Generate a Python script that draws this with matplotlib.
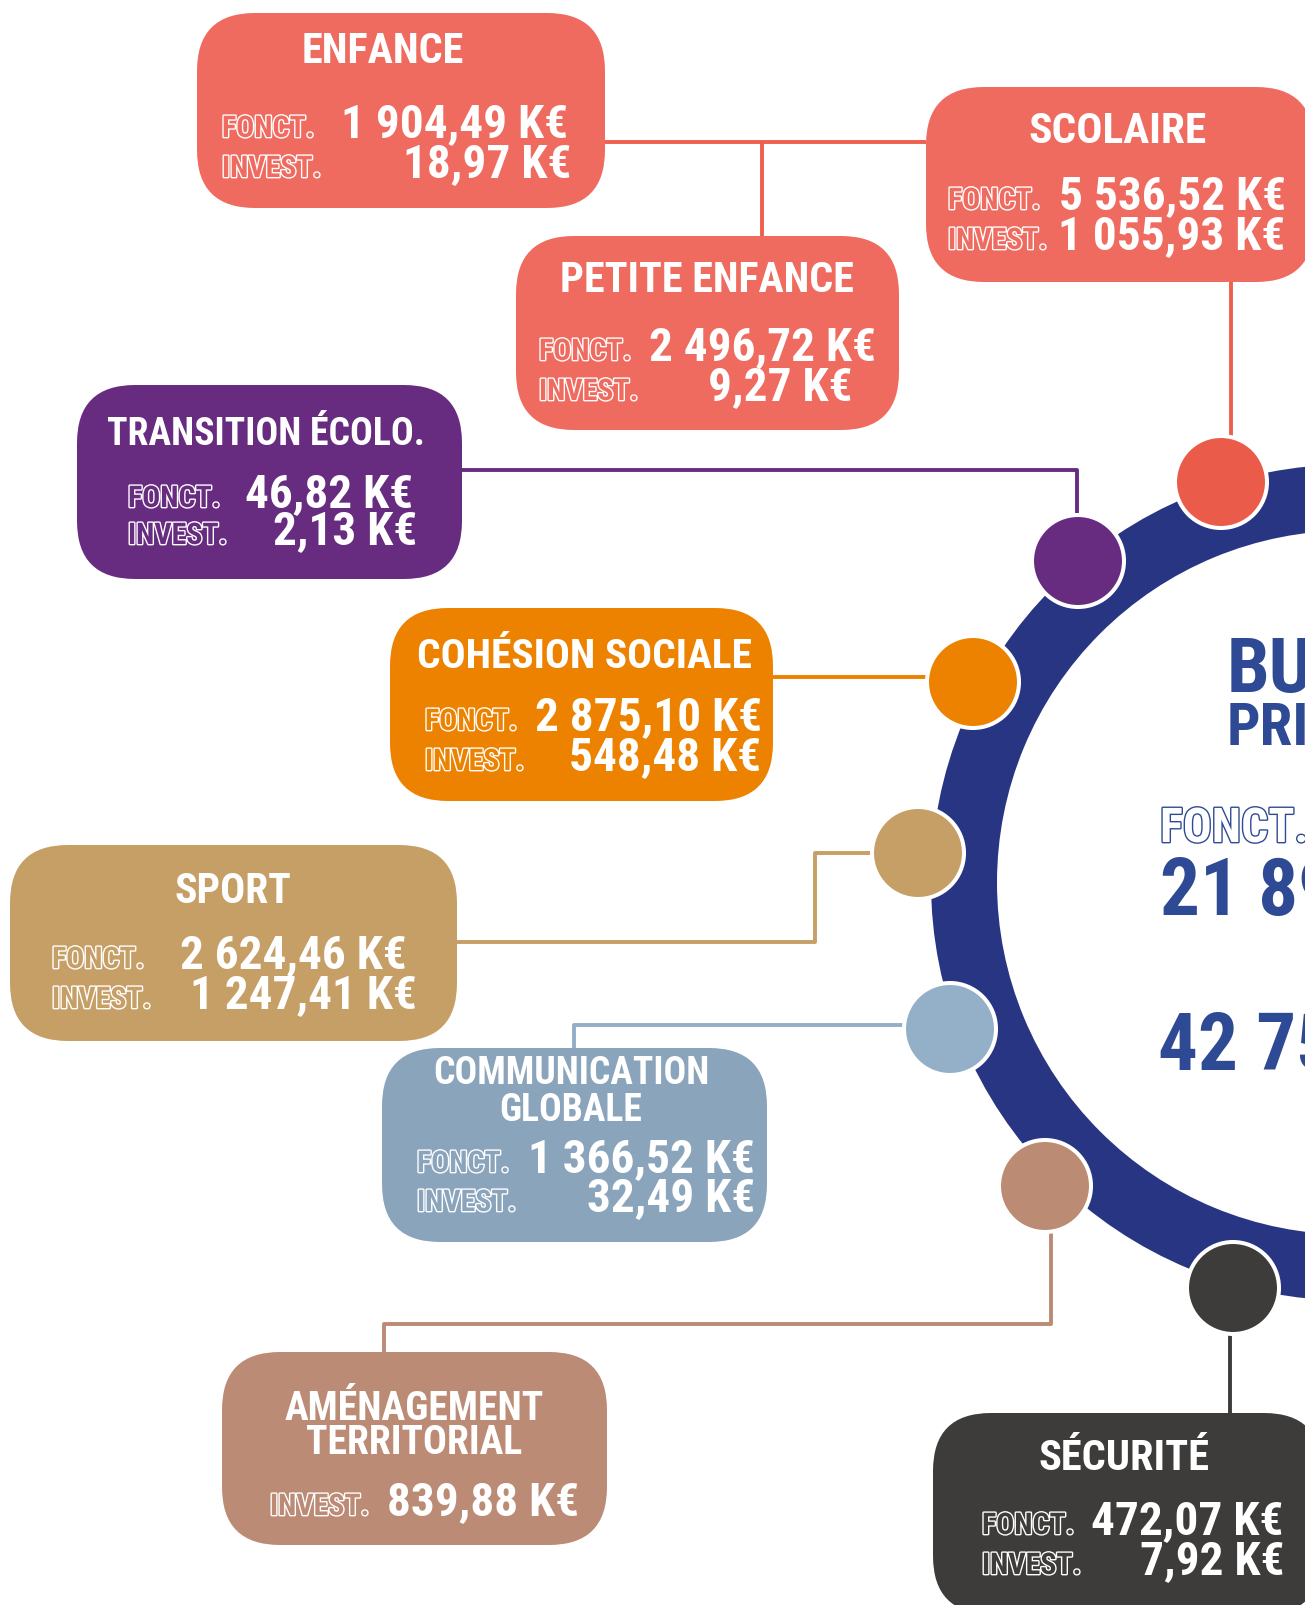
import matplotlib
matplotlib.use("Agg")
import matplotlib.pyplot as plt
import matplotlib.patches as mpatches
import matplotlib.patheffects as pe
from matplotlib import font_manager as fm

# ---- data ----
themes = ['ENFANCE', 'SCOLAIRE', 'PETITE ENFANCE', 'TRANSITION ÉCOLO.',
          'COHÉSION SOCIALE', 'SPORT', 'COMMUNICATION\nGLOBALE',
          'AMÉNAGEMENT\nTERRITORIAL', 'SÉCURITÉ']
fonct = [1904.49, 5536.52, 2496.72, 46.82, 2875.10, 2624.46, 1366.52, None, 472.07]
invest = [18.97, 1055.93, 9.27, 2.13, 548.48, 1247.41, 32.49, 839.88, 7.92]
center_lines = ['BUDGET', 'PRINCIPAL', 'FONCT.', '21 89', '42 75']

# ---- layout (pixels, y down) ----
boxes = [(197, 13, 605, 208), (926, 87, 1314, 282), (516, 236, 899, 430),
         (77, 385, 462, 579), (390, 608, 773, 801), (10, 845, 457, 1041),
         (382, 1048, 767, 1242), (222, 1352, 607, 1545), (933, 1413, 1322, 1614)]
box_colors = ['#EF6B5F', '#EF6B5F', '#EF6B5F', '#672C80', '#EC8200',
              '#C69F66', '#8AA4BC', '#BB8B75', '#3D3C3A']
title_pos = [(383, 63), (1117, 143), (707, 292), (266, 445), (584, 668),
             (233, 903), (571, 1084), (414, 1420), (1124, 1470)]
title_size = [30.4, 31.2, 30.3, 27.2, 29.8, 30.0, 27.1, 28.5, 30.5]
label_x = [222, 948, 539, 128, 425, 52, 417, 270, 982]
row_base = [(137, 177), (209, 249), (360, 400), (507, 544), (730, 770),
            (968, 1008), (1172, 1211), (None, 1515), (1534, 1574)]
value_x = [(341, 403), (1059, 1058), (649, 708), (245, 273), (535, 569),
           (180, 190), (528, 587), (None, 387), (1091, 1140)]

ring_c = (1349, 882.5)
ring_r, ring_w = 418, 66
node_xy = [(1221, 482), (1078, 561), (973, 682), (918, 853),
           (950, 1029), (1045, 1186), (1233, 1288)]
node_colors = ['#EA5B4A', '#672C80', '#EC8200', '#C69F66',
               '#93B0C8', '#BC8B73', '#3D3C3A']
links = [([605, 926], [142, 142], '#EE5F4E'),
         ([762, 762], [142, 236], '#EE5F4E'),
         ([1231, 1231], [282, 436], '#EE5F4E'),
         ([462, 1077, 1077], [470, 470, 515], '#672C80'),
         ([773, 927], [677, 677], '#EC8200'),
         ([457, 815, 815, 872], [942, 942, 853, 853], '#C69F66'),
         ([574, 574, 904], [1048, 1025, 1025], '#92AEC8'),
         ([1051, 1051, 384, 384], [1232, 1324, 1324, 1352], '#BB8B75'),
         ([1230, 1230], [1334, 1413], '#3D3C3A')]

RING = '#283583'
BLUE = '#2E4A94'

names = {f.name for f in fm.fontManager.ttflist}
FONT, STRETCH = 'DejaVu Sans', 'condensed'
for cand in ['Roboto Condensed', 'Liberation Sans Narrow']:
    if cand in names:
        FONT, STRETCH = cand, 'normal'
        break


def fr(v):
    return f"{v:,.2f}".replace(',', ' ').replace('.', ',') + ' K€'


def txt(ax, x, y, s, size, color='white', ha='left', outline=None, z=5):
    t = ax.text(x, y, s, fontsize=size, color=color, ha=ha, va='baseline',
                family=FONT, fontstretch=STRETCH, fontweight='bold', zorder=z)
    if outline:
        t.set_path_effects([pe.Stroke(linewidth=2.0, foreground=outline), pe.Normal()])
    return t


fig = plt.figure(figsize=(13.05, 16.05), dpi=100)
ax = fig.add_axes([0, 0, 1, 1])
ax.set_xlim(0, 1305)
ax.set_ylim(1605, 0)
ax.axis('off')

for xs, ys, c in links:
    ax.plot(xs, ys, color=c, lw=2.8, solid_capstyle='butt', zorder=1)

ax.add_patch(mpatches.Wedge(ring_c, ring_r, 0, 360, width=ring_w,
                            facecolor=RING, edgecolor='none', zorder=2))

for (x, y), c in zip(node_xy, node_colors):
    ax.add_patch(mpatches.Circle((x, y), 46, facecolor=c, edgecolor='white',
                                 lw=2.9, zorder=3))

for i, name in enumerate(themes):
    x0, y0, x1, y1 = boxes[i]
    col = box_colors[i]
    ax.add_patch(mpatches.FancyBboxPatch((x0, y0), x1 - x0, y1 - y0,
                                         boxstyle='round,pad=0,rounding_size=58',
                                         facecolor=col, edgecolor='none', zorder=3))
    tx, ty = title_pos[i]
    for k, line in enumerate(name.split('\n')):
        txt(ax, tx, ty + k * (37 if i == 6 else 34), line, title_size[i], ha='center')
    for j, (lab, val) in enumerate([('FONCT.', fonct[i]), ('INVEST.', invest[i])]):
        if val is None:
            continue
        yb = row_base[i][j]
        txt(ax, label_x[i], yb, lab, 21.5, color=col, outline='white')
        txt(ax, value_x[i][j], yb, fr(val), 34)

# centre of the ring (cut by the right edge, as in the original)
txt(ax, 1227, 692, center_lines[0], 54.7, color=BLUE)
txt(ax, 1227, 745, center_lines[1], 42.5, color=BLUE)
txt(ax, 1160, 842, center_lines[2], 34.5, color='white', outline=BLUE)
txt(ax, 1160, 915, center_lines[3], 57, color=BLUE)
txt(ax, 1158, 1070, center_lines[4], 57, color=BLUE)

fig.savefig('out.png', dpi=100)
